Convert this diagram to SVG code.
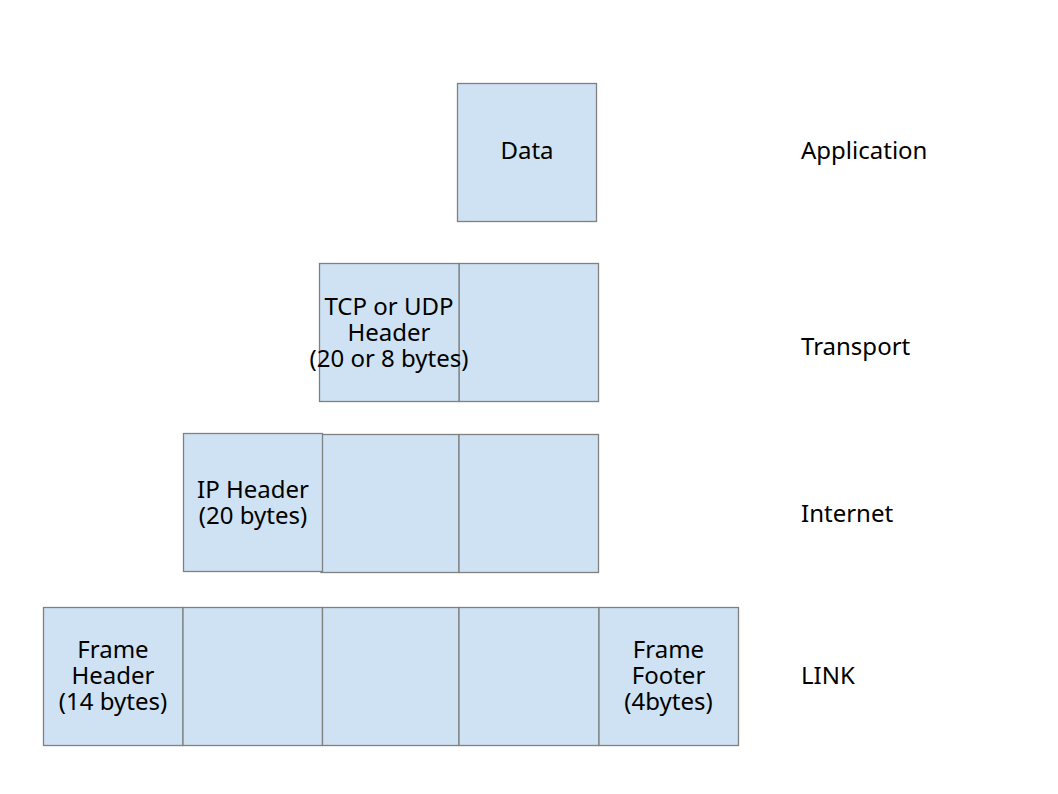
<svg xmlns="http://www.w3.org/2000/svg" width="1058" height="794" viewBox="0 0 1058 794">
<style>
.b{fill:#cfe2f3;stroke:#808080;stroke-width:1.3}
text{font-family:"Noto Sans","Open Sans","DejaVu Sans",sans-serif;font-size:24px;fill:#000}
.c{text-anchor:middle}
</style>
<rect width="1058" height="794" fill="#fff"/>
<g id="data"><rect class="b" x="457.5" y="83.5" width="139" height="138"/><text class="c" x="527" y="159">Data</text></g>
<g id="tcp-data"><rect class="b" x="459" y="263.5" width="139.5" height="138"/></g>
<g id="tcp-header"><rect class="b" x="319.5" y="263.5" width="139.5" height="138"/><text class="c" x="389" y="315">TCP or UDP<tspan x="389" dy="26">Header</tspan><tspan x="389" dy="26">(20 or 8 bytes)</tspan></text></g>
<g id="ip-tcp"><rect class="b" x="321" y="434.5" width="138" height="138"/></g>
<g id="ip-data"><rect class="b" x="459" y="434.5" width="139.5" height="138"/></g>
<g id="ip-header"><rect class="b" x="183.5" y="433.5" width="139" height="138"/><text class="c" x="253" y="498">IP Header<tspan x="253" dy="26">(20 bytes)</tspan></text></g>
<g id="frame-header"><rect class="b" x="43.5" y="607.5" width="139.5" height="138"/><text class="c" x="113" y="658">Frame<tspan x="113" dy="26">Header</tspan><tspan x="113" dy="26">(14 bytes)</tspan></text></g>
<g id="frame-ip"><rect class="b" x="183" y="607.5" width="139.5" height="138"/></g>
<g id="frame-tcp"><rect class="b" x="322.5" y="607.5" width="136.5" height="138"/></g>
<g id="frame-data"><rect class="b" x="459" y="607.5" width="140" height="138"/></g>
<g id="frame-footer"><rect class="b" x="599" y="607.5" width="139.5" height="138"/><text class="c" x="668.5" y="658">Frame<tspan x="668.5" dy="26">Footer</tspan><tspan x="668.5" dy="26">(4bytes)</tspan></text></g>
<g id="labels">
<text x="801" y="159">Application</text>
<text x="801" y="355">Transport</text>
<text x="801" y="522">Internet</text>
<text x="801" y="684">LINK</text>
</g>
<g id="connectors"></g>
</svg>
